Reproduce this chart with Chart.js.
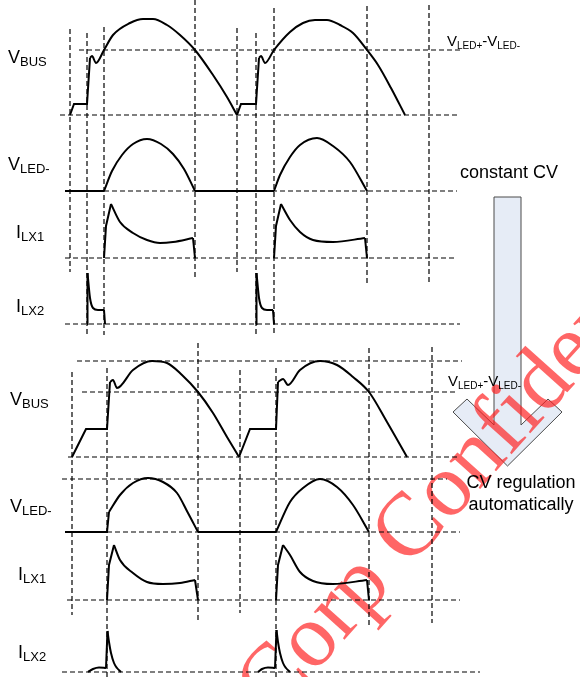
<!DOCTYPE html>
<html>
<head>
<meta charset="utf-8">
<script src="https://cdn.jsdelivr.net/npm/chart.js@4/dist/chart.umd.min.js"></script>
<style>
  html, body { margin: 0; background: #fff; }
  canvas { display: block; }
</style>
</head>
<body>
<canvas id="wave" width="580" height="677"></canvas>
<script>
// time on the x axis (same units for every trace), amplitude measured
// from each trace's own zero line. 'line' runs are straight, 'curve' runs smooth.
const vbusTop = [
  ['line', [[70, 0], [74, 11], [87, 11], [90, 57]]],
  ['curve', [[90, 57], [92, 59], [96, 52], [104, 65], [113, 80], [130, 92], [143, 96], [153, 96], [167, 90], [180, 80], [195, 65], [213, 40], [227, 18], [237, 0]]],
  ['line', [[237, 0], [241, 11], [256, 11], [259, 57]]],
  ['curve', [[259, 57], [261, 59], [265, 52], [274, 65], [290, 83], [303, 92], [315, 95], [327, 95], [340, 90], [353, 82], [367, 65], [378, 50], [391, 27], [405, 0]]]
];
const vledTop = [
  ['line', [[65, 0], [104, 0]]],
  ['curve', [[104, 0], [112, 20], [122, 36], [133, 47], [147, 52], [161, 47], [173, 37], [184, 22], [195, 0]]],
  ['line', [[195, 0], [274, 0]]],
  ['curve', [[274, 0], [280, 16], [290, 34], [300, 46], [317, 53], [333, 45], [350, 29], [367, 0]]]
];
const ilx1Top = [
  ['line', [[104, 0], [106, 32], [111, 54]]],
  ['curve', [[111, 54], [120, 36], [133, 25], [147, 18], [160, 15], [173, 16], [193, 20]]],
  ['line', [[193, 20], [195, 0]]],
  ['line', [[274, 0], [276, 32], [281, 54]]],
  ['curve', [[281, 54], [290, 38], [300, 26], [313, 18], [333, 16], [365, 20]]],
  ['line', [[365, 20], [367, 0]]]
];
const ilx2Top = [
  ['line', [[87, 0], [87.5, 51]]],
  ['curve', [[87.5, 51], [90, 26], [93, 16], [98, 14], [104, 14]]],
  ['line', [[104, 14], [105, 0]]],
  ['line', [[256, 0], [256.5, 51]]],
  ['curve', [[256.5, 51], [259, 26], [262, 16], [267, 14], [273, 14]]],
  ['line', [[273, 14], [274, 0]]]
];

const vbusBot = [
  ['line', [[72, 0], [86, 28], [107, 28], [110, 75]]],
  ['curve', [[110, 75], [113, 77], [117, 69], [133, 87], [152, 96], [167, 94], [182, 82], [198, 65], [213, 44], [227, 20], [239, 0]]],
  ['line', [[239, 0], [250, 28], [276, 28], [278, 75]]],
  ['curve', [[278, 75], [283, 78], [288, 72], [300, 87], [320, 96], [337, 92], [353, 80], [369, 65], [387, 35], [407, 0]]]
];
const vledBot = [
  ['line', [[65, 0], [107, 0], [109, 20]]],
  ['curve', [[109, 20], [120, 37], [133, 49], [148, 54], [163, 50], [177, 39], [188, 19], [198, 0]]],
  ['line', [[198, 0], [276, 0]]],
  ['curve', [[276, 0], [290, 30], [303, 44], [320, 53], [337, 45], [353, 27], [369, 0]]]
];
const ilx1Bot = [
  ['line', [[107, 0], [109, 35], [114, 55]]],
  ['curve', [[114, 55], [120, 40], [133, 27], [147, 18], [163, 16], [180, 17], [195, 20]]],
  ['line', [[195, 20], [198, 0]]],
  ['line', [[276, 0], [278, 35], [283, 55]]],
  ['curve', [[283, 55], [290, 45], [300, 28], [313, 19], [333, 16], [367, 20]]],
  ['line', [[367, 20], [369, 0]]]
];
const ilx2Bot = [
  ['curve', [[88, 0], [93, 3], [99, 4.5], [106, 4]]],
  ['line', [[106, 4], [107.5, 41]]],
  ['curve', [[107.5, 41], [109, 30], [111, 19], [114, 9], [117, 4], [121, 0]]],
  ['curve', [[258, 0], [262, 3], [268, 4.5], [275, 4]]],
  ['line', [[275, 4], [276.5, 42]]],
  ['curve', [[276.5, 42], [278, 30], [280, 19], [283, 9], [286, 4], [290, 0]]]
];

// ---- layout: where each trace's zero line sits, guide lines, labels ----
const traces = [
  { runs: vbusTop, zero: 115 }, { runs: vledTop, zero: 191 },
  { runs: ilx1Top, zero: 258 }, { runs: ilx2Top, zero: 324 },
  { runs: vbusBot, zero: 457 }, { runs: vledBot, zero: 532 },
  { runs: ilx1Bot, zero: 600 }, { runs: ilx2Bot, zero: 672 }
];

// [y, xFrom, xTo]
const hGuides = [
  [50, 79, 463], [115, 60, 460], [191, 104, 457], [258, 65, 457], [324, 65, 460],
  [361, 77, 462], [392, 82, 457], [457, 68, 458], [479, 62, 447],
  [532, 107, 460], [600, 67, 460], [672, 62, 480]
];
// [x, yFrom, yTo]
const vGuides = [
  [70, 29, 272], [87, 33, 335], [104, 27, 335], [195, 0, 278], [237, 28, 272],
  [256, 33, 335], [274, 8, 335], [367, 6, 284], [429, 5, 282],
  [72, 372, 615], [107, 368, 677], [198, 343, 620], [240, 370, 613],
  [276, 368, 677], [369, 348, 625], [432, 347, 623]
];

// [main, subscript, x, baseline]
const sideLabels = [
  ['V', 'BUS', 8, 63], ['V', 'LED-', 8, 170], ['I', 'LX1', 16, 238], ['I', 'LX2', 16, 312],
  ['V', 'BUS', 10, 405], ['V', 'LED-', 10, 512], ['I', 'LX1', 18, 580], ['I', 'LX2', 18, 658]
];

const datasets = [];
traces.forEach(function (tr) {
  tr.runs.forEach(function (run) {
    datasets.push({
      data: run[1].map(function (p) { return { x: p[0], y: tr.zero - p[1] }; }),
      showLine: true,
      borderColor: '#000',
      borderWidth: 2,
      pointRadius: 0,
      fill: false,
      clip: false,
      cubicInterpolationMode: run[0] === 'curve' ? 'monotone' : 'default',
      tension: 0,
      order: 1
    });
  });
});
hGuides.forEach(function (g) {
  datasets.push({
    data: [{ x: g[1], y: g[0] }, { x: g[2], y: g[0] }],
    showLine: true, borderColor: '#000', borderWidth: 1.2, borderDash: [5, 3],
    pointRadius: 0, fill: false, clip: false, order: 2
  });
});
vGuides.forEach(function (g) {
  datasets.push({
    data: [{ x: g[0], y: g[1] }, { x: g[0], y: g[2] }],
    showLine: true, borderColor: '#000', borderWidth: 1.2, borderDash: [5, 3],
    pointRadius: 0, fill: false, clip: false, order: 2
  });
});

function subText(ctx, parts, x, y, big, small) {
  parts.forEach(function (p) {
    ctx.font = (p[1] ? small : big) + 'px "Liberation Sans", Arial, sans-serif';
    ctx.fillText(p[0], x, y + (p[1] ? 3 : 0));
    x += ctx.measureText(p[0]).width;
  });
}

const decor = {
  id: 'decor',
  beforeDatasetsDraw: function (chart) {
    const ctx = chart.ctx, sx = chart.scales.x, sy = chart.scales.y;
    const P = function (x, y) { return [sx.getPixelForValue(x), sy.getPixelForValue(y)]; };
    // big arrow
    const arrow = [[494, 197], [521, 197], [521, 425], [548, 399], [562, 412], [507.5, 466],
                   [453, 412], [467, 399], [494, 425]];
    ctx.save();
    ctx.beginPath();
    arrow.forEach(function (pt, i) {
      const q = P(pt[0], pt[1]);
      if (i === 0) ctx.moveTo(q[0], q[1]); else ctx.lineTo(q[0], q[1]);
    });
    ctx.closePath();
    ctx.fillStyle = '#e6ecf6';
    ctx.fill();
    ctx.strokeStyle = '#4a4a4a';
    ctx.lineWidth = 1;
    ctx.stroke();
    // watermark
    const w = P(273, 719);
    ctx.translate(w[0], w[1]);
    ctx.rotate(-48 * Math.PI / 180);
    ctx.font = '90px "Liberation Serif", "Times New Roman", serif';
    ctx.fillStyle = 'rgba(255, 30, 30, 0.68)';
    ctx.fillText('Corp Confidential', 0, 0);
    ctx.restore();
  },
  afterDatasetsDraw: function (chart) {
    const ctx = chart.ctx;
    ctx.save();
    ctx.fillStyle = '#000';
    ctx.textBaseline = 'alphabetic';
    ctx.textAlign = 'left';
    sideLabels.forEach(function (l) {
      subText(ctx, [[l[0], 0], [l[1], 1]], l[2], l[3], 18, 13);
    });
    const led = [['V', 0], ['LED+', 1], ['-', 0], ['V', 0], ['LED-', 1]];
    subText(ctx, led, 447, 46, 15, 10);
    subText(ctx, led, 448, 386, 15, 10);
    ctx.font = '18px "Liberation Sans", Arial, sans-serif';
    ctx.textAlign = 'center';
    ctx.fillText('constant CV', 509, 178);
    ctx.fillText('CV regulation', 521, 488);
    ctx.fillText('automatically', 521, 510);
    ctx.restore();
  }
};

new Chart(document.getElementById('wave'), {
  type: 'scatter',
  data: { datasets: datasets },
  options: {
    responsive: false,
    animation: false,
    devicePixelRatio: 1,
    events: [],
    layout: { padding: 0 },
    plugins: { legend: { display: false }, tooltip: { enabled: false } },
    scales: {
      x: { type: 'linear', min: 0, max: 580, display: false },
      y: { type: 'linear', min: 0, max: 677, reverse: true, display: false }
    }
  },
  plugins: [decor]
});
</script>
</body>
</html>
